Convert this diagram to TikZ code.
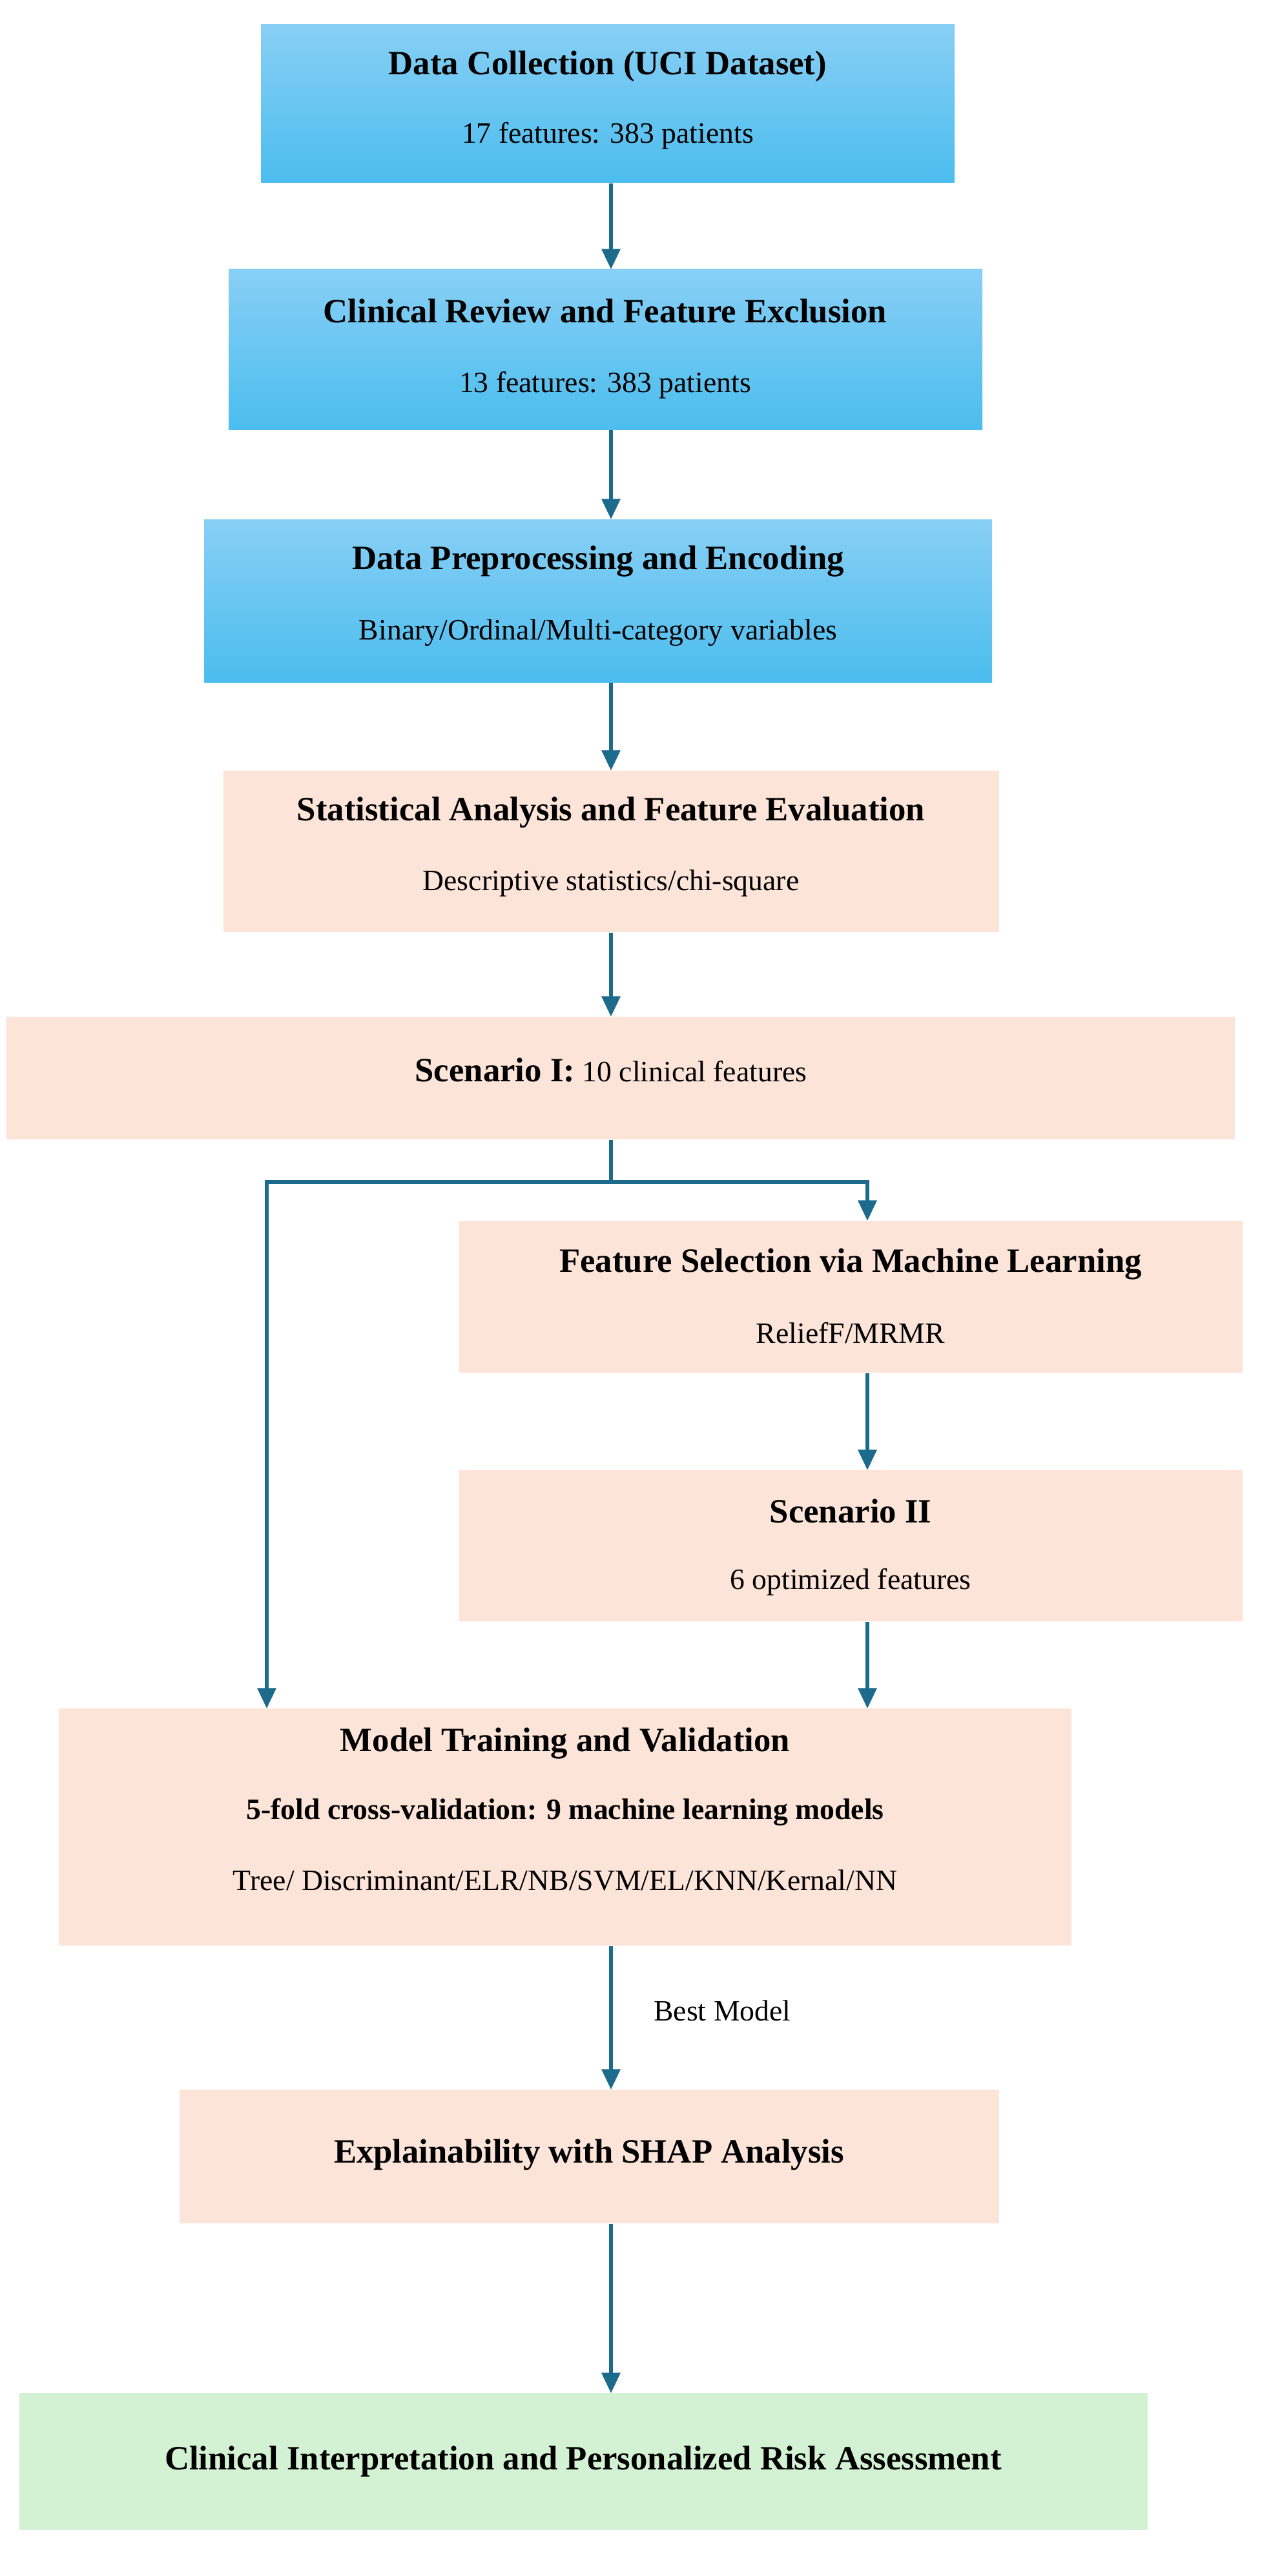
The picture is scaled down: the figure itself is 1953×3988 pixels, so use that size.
\documentclass[tikz,border=0pt]{standalone}
\usepackage{fontspec}
\setmainfont{Liberation Serif}
\usetikzlibrary{arrows.meta}
\definecolor{arr}{HTML}{1C6A8C}
\definecolor{bluetop}{HTML}{88CFF5}
\definecolor{bluebot}{HTML}{4BBDEE}
\definecolor{peach}{HTML}{FDE4D8}
\definecolor{greenb}{HTML}{D3F2D3}
\tikzset{
  blue box/.style={draw=none,top color=bluetop,bottom color=bluebot,inner sep=0},
  peach box/.style={draw=none,fill=peach,inner sep=0},
  green box/.style={draw=none,fill=greenb,inner sep=0},
  ttl/.style={font=\fontsize{15}{17}\selectfont\bfseries,inner sep=0},
  sub/.style={font=\fontsize{13}{15}\selectfont,inner sep=0},
  flow/.style={draw=arr,line width=1.7pt,-{Triangle[length=9pt,width=8pt]}},
  line/.style={draw=arr,line width=1.7pt}
}
\newcommand{\bx}[6]{% name, style, x1, y1, x2, y2
  \path[#2] (#3,#4) rectangle (#5,#6);
  \node[minimum width={(#5-#3)*0.01cm},minimum height={(#6-#4)*0.01cm},inner sep=0,anchor=north west] (#1) at (#3,#4) {};
}
\begin{document}
\begin{tikzpicture}[x=0.01cm,y=-0.01cm]
\useasboundingbox[fill=white] (0,0) rectangle (1953,3988);
\bx{b1}{blue box}{404}{38}{1478}{283}
\bx{b2}{blue box}{354}{417}{1521}{665}
\bx{b3}{blue box}{316}{804}{1536}{1056}
\bx{b4}{peach box}{346}{1193}{1547}{1443}
\bx{b5}{peach box}{10}{1574}{1912}{1764}
\bx{b6}{peach box}{711}{1890}{1924}{2125}
\bx{b7}{peach box}{711}{2276}{1924}{2510}
\bx{b8}{peach box}{91}{2645}{1659}{3012}
\bx{b9}{peach box}{278}{3235}{1547}{3442}
\bx{b10}{green box}{30}{3705}{1777}{3917}

\node[ttl] (t1) at (941,103) {Data Collection (UCI Dataset)};
\node[sub] (s1) at (941,210) {17 features: 383 patients};
\node[ttl] (t2) at (937,482) {Clinical Review and Feature Exclusion};
\node[sub] (s2) at (937,596) {13 features: 383 patients};
\node[ttl] (t3) at (926,869) {Data Preprocessing and Encoding};
\node[sub] (s3) at (926,980) {Binary/Ordinal/Multi-category variables};
\node[ttl] (t4) at (946,1258) {Statistical Analysis and Feature Evaluation};
\node[sub] (s4) at (946,1367) {Descriptive statistics/chi-square};
\node[sub] (t5) at (946,1657) {\textbf{\fontsize{15}{17}\selectfont Scenario I:} 10 clinical features};
\node[ttl] (t6) at (1317,1957) {Feature Selection via Machine Learning};
\node[sub] (s6) at (1317,2064) {ReliefF/MRMR};
\node[ttl] (t7) at (1317,2339) {Scenario II};
\node[sub] (s7) at (1317,2449) {6 optimized features};
\node[ttl] (t8) at (875,2699) {Model Training and Validation};
\node[sub,font=\fontsize{13}{15}\selectfont\bfseries] (m8) at (875,2805) {5-fold cross-validation: 9 machine learning models};
\node[sub] (s8) at (875,2911) {Tree/ Discriminant/ELR/NB/SVM/EL/KNN/Kernal/NN};
\node[ttl] (t9) at (912,3336) {Explainability with SHAP Analysis};
\node[ttl] (t10) at (903,3811) {Clinical Interpretation and Personalized Risk Assessment};

\coordinate (cx) at (946,0);
\coordinate (br) at (946,1830);
\coordinate (bl) at (413,1830);
\coordinate (brr) at (1343,1830);
\draw[flow] (b1.south -| cx) -- (b2.north -| cx);
\draw[flow] (b2.south -| cx) -- (b3.north -| cx);
\draw[flow] (b3.south -| cx) -- (b4.north -| cx);
\draw[flow] (b4.south -| cx) -- (b5.north -| cx);
\draw[line] (b5.south -| cx) -- (br);
\draw[flow] (br) -- (brr) -- (b6.north -| brr);
\draw[flow] (br) -- (bl) -- (b8.north -| bl);
\draw[flow] (b6.south -| brr) -- (b7.north -| brr);
\draw[flow] (b7.south -| brr) -- (b8.north -| brr);
\draw[flow] (b8.south -| cx) -- node[sub,right=18pt,pos=0.45] (bm) {Best Model} (b9.north -| cx);
\draw[flow] (b9.south -| cx) -- (b10.north -| cx);
\end{tikzpicture}
\end{document}
